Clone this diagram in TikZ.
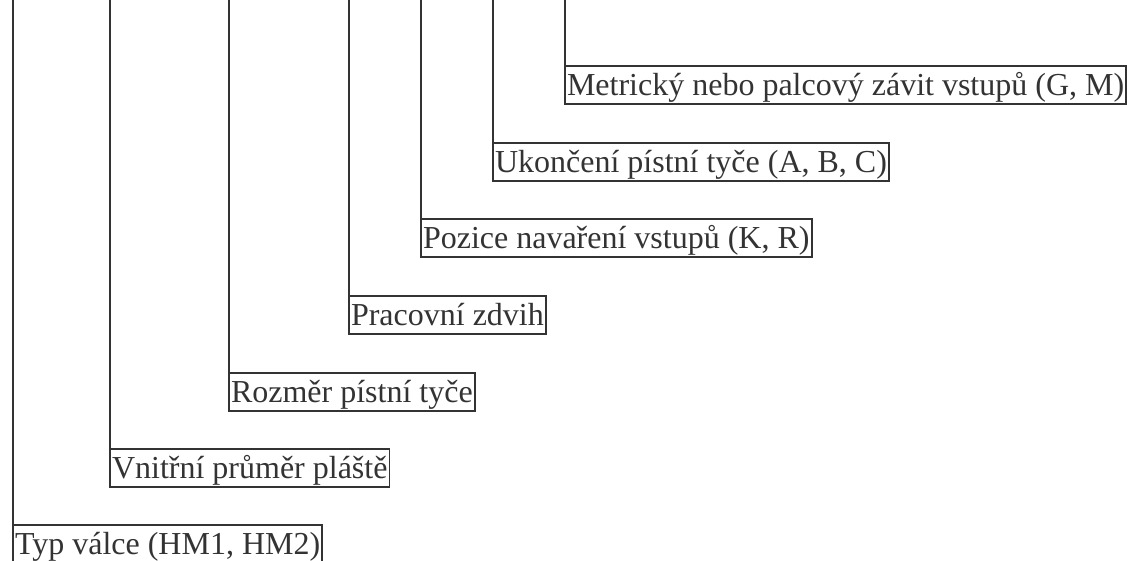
\documentclass[tikz,border=0pt]{standalone}
\usepackage{fontspec}
\setmainfont{Liberation Serif}
\usetikzlibrary{positioning}

\begin{document}
\begin{tikzpicture}[
    x=0.75pt, y=-0.75pt,
    labelbox/.style={rectangle, draw=black!80, line width=1.4pt, text=black!80, anchor=north west,
        outer sep=0pt, inner xsep=1.5pt, inner ysep=0pt, text height=22pt, text depth=6.5pt,
        font=\fontsize{24}{28}\selectfont},
    lead/.style={draw=black!80, line width=1.4pt}
]
    \useasboundingbox (0,0) rectangle (1127,560);
    \coordinate (top) at (0,0);

    % Labels
    \node[labelbox] (typ) at (13,525) {Typ válce (HM1, HM2)};
    \node[labelbox] (plast) at (110,449) {Vnitřní průměr pláště};
    \node[labelbox] (tyc) at (229,373) {Rozměr pístní tyče};
    \node[labelbox] (zdvih) at (349,296) {Pracovní zdvih};
    \node[labelbox] (pozice) at (421,219) {Pozice navaření vstupů (K, R)};
    \node[labelbox] (ukonceni) at (493,143) {Ukončení pístní tyče (A, B, C)};
    \node[labelbox] (zavit) at (565,66) {Metrický nebo palcový závit vstupů (G, M)};

    % Leaders
    \draw[lead] (typ.north west |- top) -- (typ.north west);
    \draw[lead] (plast.north west |- top) -- (plast.north west);
    \draw[lead] (tyc.north west |- top) -- (tyc.north west);
    \draw[lead] (zdvih.north west |- top) -- (zdvih.north west);
    \draw[lead] (pozice.north west |- top) -- (pozice.north west);
    \draw[lead] (ukonceni.north west |- top) -- (ukonceni.north west);
    \draw[lead] (zavit.north west |- top) -- (zavit.north west);
\end{tikzpicture}
\end{document}
